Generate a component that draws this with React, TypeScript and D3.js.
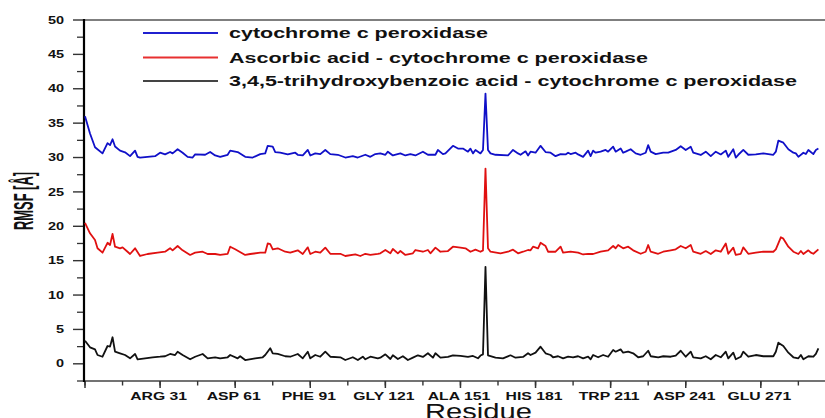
import React from "react";
import * as d3 from "d3";

const cpxResidues = [1,3,5,8,10,11,12,13,15,17,19,21,22,23,26,29,31,33,35,36,38,40,42,44,45,49,51,53,55,58,59,62,65,68,71,73,74,76,77,79,82,85,86,88,90,91,93,95,97,99,102,105,108,110,113,115,117,119,121,122,124,127,129,131,133,136,138,141,142,144,145,148,150,152,154,155,156,157,159,160,161,162,163,165,170,172,174,175,177,178,179,181,183,185,187,189,191,193,194,195,197,198,200,202,203,204,205,207,209,210,212,213,215,216,217,219,221,223,225,226,227,229,232,234,237,239,241,243,244,247,249,251,253,255,257,258,260,261,262,264,266,269,272,276,277,278,280,282,284,285,286,288,289,290,292,293,294];
const cpxRmsf = [36.0,33.5,31.5,30.6,32.1,31.8,32.65,31.6,31.0,30.76,30.2,31.0,30.1,29.98,30.1,30.2,30.7,30.46,30.8,30.6,31.2,30.7,30.1,30.0,30.45,30.4,30.8,30.3,30.1,30.4,31.0,30.8,30.1,30.0,30.5,30.6,31.7,31.6,30.8,30.7,30.46,30.7,30.4,30.3,31.1,30.3,30.6,30.5,31.1,30.5,30.4,30.0,30.2,30.0,30.4,30.1,30.5,30.6,30.4,30.85,30.3,30.6,30.3,30.5,30.3,30.85,30.4,30.4,31.1,30.5,30.6,31.7,31.3,31.3,30.85,31.3,30.6,31.1,30.6,31.1,39.3,31.1,30.6,30.4,30.3,31.1,30.6,30.4,30.9,30.3,30.85,30.7,31.7,30.8,30.7,30.2,30.5,30.45,30.7,30.5,30.7,30.45,30.1,31.0,30.2,31.0,30.7,30.85,31.1,30.85,31.57,30.85,31.33,30.7,30.85,31.2,30.6,30.4,30.7,31.8,30.85,30.5,30.7,30.7,31.1,31.65,31.1,31.57,30.7,30.37,30.85,30.2,30.85,30.45,31.0,30.1,31.2,30.0,30.4,31.1,30.4,30.45,30.6,30.4,30.85,32.45,32.16,31.2,30.7,30.6,30.1,30.7,30.5,31.1,30.5,31.1,31.3];

const ascResidues = [1,3,5,6,8,10,11,12,13,15,16,18,19,21,23,26,30,33,35,36,38,40,43,45,48,50,53,55,58,59,61,65,67,71,73,74,75,76,78,81,83,86,88,90,91,93,95,97,99,103,105,109,111,113,115,118,119,121,123,124,126,127,129,132,133,136,138,139,141,143,146,148,151,153,155,157,159,160,161,162,163,167,170,172,174,176,178,179,180,182,183,185,186,189,191,192,195,198,200,202,204,207,210,212,213,214,216,218,220,223,225,226,227,230,232,235,237,239,241,243,244,247,249,251,253,255,257,258,260,261,263,264,266,269,272,276,277,279,280,282,284,286,287,288,290,291,292,294];
const ascRmsf = [20.5,18.98,18.0,16.8,16.16,17.6,17.28,18.88,17.03,16.8,16.94,16.3,15.97,16.8,15.68,15.97,16.16,16.3,16.8,16.5,17.13,16.5,15.83,16.16,16.3,15.97,15.97,15.83,16.0,17.03,16.65,15.83,15.97,16.16,16.16,17.5,17.4,16.65,16.8,16.3,16.16,16.5,15.97,16.94,15.97,16.3,16.16,16.9,16.0,16.0,15.68,15.9,15.68,16.0,15.83,16.0,16.07,16.55,16.07,16.7,16.07,16.4,15.83,16.07,16.55,16.3,16.55,16.07,16.89,16.3,16.4,17.03,16.9,16.8,16.3,16.6,16.3,16.5,28.4,16.8,16.3,16.07,16.3,16.6,16.07,16.3,16.55,16.5,17.03,16.8,17.6,17.13,16.3,16.3,17.03,16.16,16.3,16.16,15.9,16.0,15.97,16.3,16.5,17.13,16.8,17.28,16.8,17.03,16.5,16.0,16.3,17.28,16.3,16.0,16.3,16.5,16.65,17.13,16.8,17.28,16.3,16.0,16.4,15.97,16.5,16.3,17.5,16.0,16.9,15.83,16.0,16.94,16.0,16.16,16.3,16.3,16.65,18.4,18.2,17.03,16.3,15.97,16.4,15.97,16.5,16.16,16.0,16.65];

const thbResidues = [1,3,5,6,8,10,11,12,13,15,17,19,21,22,25,28,31,33,35,37,38,40,43,45,48,50,53,55,58,59,62,63,65,69,72,73,75,76,78,81,83,86,88,90,91,93,95,97,99,103,105,108,110,112,113,115,118,119,121,123,124,126,128,130,132,134,136,138,140,141,143,146,148,151,154,156,158,159,160,161,162,165,168,171,173,176,178,179,181,183,185,187,188,190,192,194,196,198,200,202,203,204,206,208,210,212,213,215,216,218,220,222,224,226,227,230,232,235,237,239,241,243,244,247,249,251,253,255,257,258,260,261,263,264,266,269,272,276,277,278,280,282,284,286,287,288,290,292,293,294];
const thbRmsf = [3.36,2.4,2.1,1.28,1.03,2.59,2.5,3.86,1.76,1.53,1.28,0.8,1.43,0.66,0.8,0.95,1.03,1.1,1.43,1.28,1.76,1.28,0.66,1.03,1.43,0.8,0.95,0.8,0.95,1.28,0.8,1.1,0.55,0.8,0.95,1.28,2.26,1.53,1.43,1.1,1.03,1.43,0.8,1.76,0.8,1.28,1.03,1.76,1.03,0.95,0.55,0.95,0.55,1.03,0.66,1.03,0.8,0.89,1.38,0.7,1.24,0.7,1.1,0.55,0.89,1.24,1.0,1.53,0.89,1.53,0.89,1.0,1.24,1.14,1.0,1.14,0.8,1.2,1.38,14.1,1.24,0.89,0.8,1.24,0.89,1.0,1.53,1.28,1.62,2.49,1.53,1.28,0.95,1.1,0.8,1.03,0.95,1.1,0.8,1.03,0.66,1.28,0.95,1.28,1.03,2.0,1.76,2.1,1.62,1.76,1.53,0.95,1.1,1.9,1.1,0.95,1.1,1.03,1.2,1.9,1.03,1.76,0.95,0.8,1.1,0.66,1.28,0.95,1.76,0.8,1.62,0.66,1.03,1.76,1.03,1.28,1.1,1.1,1.76,3.07,2.59,1.62,0.95,0.8,1.28,0.66,1.1,1.03,1.43,2.26];

const seriesNames = [
  "cytochrome c peroxidase",
  "Ascorbic acid - cytochrome c peroxidase",
  "3,4,5-trihydroxybenzoic acid - cytochrome c peroxidase",
];
const seriesColors = ["#1010c8", "#e01010", "#111111"];
const legendColors = ["#2020d0", "#e83030", "#444444"];

const xTickResidues = [31, 61, 91, 121, 151, 181, 211, 241, 271];
const xTickLabels = ["ARG 31", "ASP 61", "PHE 91", "GLY 121", "ALA 151", "HIS 181", "TRP 211", "ASP 241", "GLU 271"];
const yTickValues = [0, 5, 10, 15, 20, 25, 30, 35, 40, 45, 50];

export default function App() {
  const W = 825, H = 418;
  const x = d3.scaleLinear().domain([1, 298]).range([85, 828.4]);
  const y = d3.scaleLinear().domain([-2.5, 50]).range([381, 20]);
  const left = 84, top = 20, bottom = 381;

  const series = [
    { res: cpxResidues, val: cpxRmsf },
    { res: ascResidues, val: ascRmsf },
    { res: thbResidues, val: thbRmsf },
  ];
  const line = d3.line<[number, number]>().x((d) => x(d[0])).y((d) => y(d[1]));

  const xMinor = d3.range(1, 298, 15);
  const yMinor = d3.range(-2.5, 50, 5);
  const font = "'Liberation Sans', Arial, sans-serif";
  const legendW = [259, 419, 568];
  const legendY = [33, 57.5, 81];

  return (
    <svg width={W} height={H} style={{ position: "absolute", left: 0, top: 0, background: "#fff" }}>
      <rect x={0} y={0} width={W} height={H} fill="#fff" />
      {/* frame */}
      <line x1={left} x2={W} y1={top} y2={top} stroke="#555" strokeWidth={1.5} />
      <line x1={left} x2={W} y1={bottom} y2={bottom} stroke="#444" strokeWidth={1.6} />
      {/* y ticks */}
      {yMinor.map((v) => (
        <line key={"ym" + v} x1={77} x2={left} y1={y(v)} y2={y(v)} stroke="#333" strokeWidth={1.3} />
      ))}
      {yTickValues.map((v) => (
        <g key={"y" + v}>
          <line x1={73} x2={left} y1={y(v)} y2={y(v)} stroke="#333" strokeWidth={1.4} />
          <text
            transform={`translate(64,${y(v) + 3.6}) scale(1.45,1)`}
            textAnchor="end"
            fontFamily={font}
            fontWeight="bold"
            fontSize={10}
            fill="#111"
          >
            {v}
          </text>
        </g>
      ))}
      {/* x ticks */}
      {xMinor.map((r) => (
        <line key={"xm" + r} x1={x(r)} x2={x(r)} y1={bottom} y2={bottom + 4.5} stroke="#333" strokeWidth={1.4} />
      ))}
      {[1, ...xTickResidues].map((r) => (
        <line key={"xM" + r} x1={x(r)} x2={x(r)} y1={bottom} y2={bottom + 7} stroke="#333" strokeWidth={1.5} />
      ))}
      {xTickResidues.map((r, i) => (
        <text
          key={"xl" + r}
          transform={`translate(${x(r) - 1.5},400) scale(1.5,1)`}
          textAnchor="middle"
          fontFamily={font}
          fontWeight="bold"
          fontSize={10.5}
          fill="#111"
        >
          {xTickLabels[i]}
        </text>
      ))}
      <line x1={left} x2={left} y1={top - 1} y2={bottom + 1} stroke="#000" strokeWidth={2.2} />
      {/* data */}
      {series.map((s, i) => (
        <path
          key={"s" + i}
          d={line(s.res.map((r, j) => [r, s.val[j]] as [number, number])) || ""}
          fill="none"
          stroke={seriesColors[i]}
          strokeWidth={1.8}
          strokeLinejoin="round"
        />
      ))}
      {/* legend */}
      {seriesNames.map((n, i) => (
        <g key={"lg" + i}>
          <line x1={143} x2={218} y1={legendY[i]} y2={legendY[i]} stroke={legendColors[i]} strokeWidth={2} />
          <text
            x={229}
            y={legendY[i] + 5.3}
            fontFamily={font}
            fontWeight="bold"
            fontSize={15}
            fill="#111"
            textLength={legendW[i]}
            lengthAdjust="spacingAndGlyphs"
          >
            {n}
          </text>
        </g>
      ))}
      {/* axis titles */}
      <text
        transform={`translate(33,230) rotate(-90)`}
        fontFamily={font}
        fontWeight="bold"
        fontSize={27}
        fill="#111"
        textLength={58}
        lengthAdjust="spacingAndGlyphs"
      >
        RMSF [Å]
      </text>
      <text
        x={425}
        y={419}
        fontFamily={font}
        fontSize={22}
        fill="#111"
        textLength={107}
        lengthAdjust="spacingAndGlyphs"
      >
        Residue
      </text>
    </svg>
  );
}
